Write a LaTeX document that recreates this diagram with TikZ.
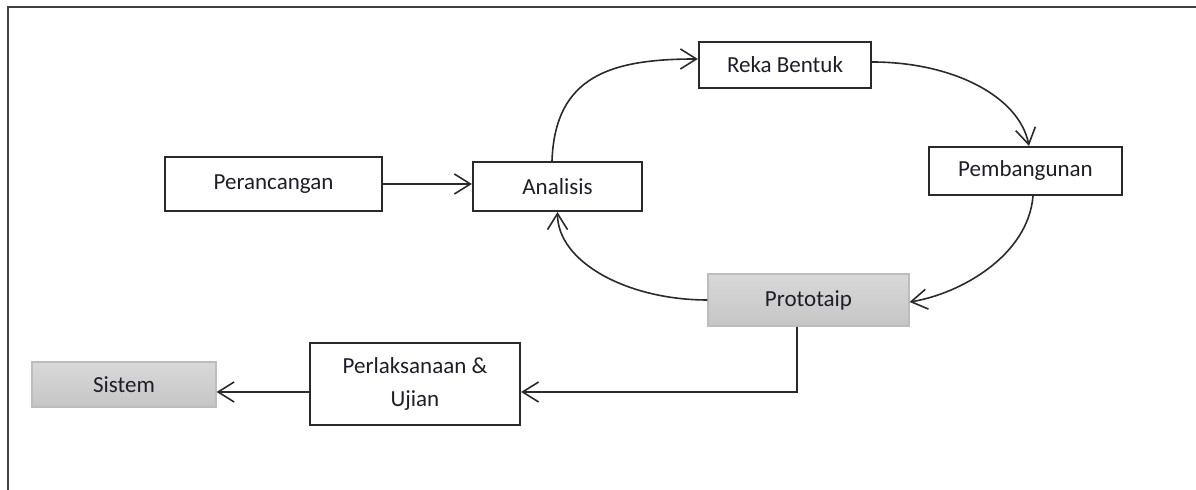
\documentclass[tikz,border=0pt]{standalone}
\usepackage{fontspec}
\setmainfont{Carlito}
\usetikzlibrary{arrows.meta}
\definecolor{ink}{HTML}{1E1E2A}
\definecolor{edge}{HTML}{2A2A2A}
\definecolor{greyedge}{HTML}{BDBDBD}
\tikzset{
  box/.style={draw=edge, line width=1.1pt, fill=white, text=ink,
    inner sep=0pt, align=center,
    font=\fontsize{11.5}{16.5}\selectfont},
  greybox/.style={draw=greyedge, line width=0.6pt, top color=gray!30,
    bottom color=gray!45, text=ink, inner sep=0pt, align=center,
    font=\fontsize{11.5}{16.5}\selectfont},
  link/.style={draw=edge, line width=0.8pt,
    -{Straight Barb[length=8pt,width=10pt,line width=0.8pt]}},
  plain/.style={draw=edge, line width=0.8pt},
}
\begin{document}
\begin{tikzpicture}[x=0.5pt,y=0.5pt]
  \useasboundingbox (0,0) rectangle (1196,490);
  % outer frame (left and top edges)
  \draw[draw=edge!90, line width=1pt] (8,0) -- (8,483) -- (1196,483);

  % process boxes
  \node[box, minimum width=108.5pt, minimum height=27pt] (per)   at (273.5,306) {Perancangan};
  \node[box, minimum width=84.5pt,  minimum height=24.5pt] (ana) at (557.5,303.5) {Analisis};
  \node[box, minimum width=86pt,    minimum height=23pt] (reka)  at (785,425) {Reka Bentuk};
  \node[box, minimum width=96.5pt,  minimum height=24pt] (pemb)  at (1025.5,319) {Pembangunan};
  \node[greybox, minimum width=100.5pt, minimum height=26pt] (proto) at (808.5,190) {Prototaip};
  \node[box, minimum width=105pt,   minimum height=41pt] (perl)  at (415,106) {Perlaksanaan \&\\Ujian};
  \node[greybox, minimum width=92pt, minimum height=22.5pt] (sis) at (124,105.5) {Sistem};

  % connectors
  \draw[link] (per.east) -- (per.east -| ana.west);
  \draw[link] ([xshift=-2.75pt]ana.north) .. controls +(3,85) and +(-87,0) .. ([yshift=3pt]reka.west);
  \draw[link] ([yshift=1.5pt]reka.east) .. controls +(80,0) and +(-10,50) .. ([xshift=1.75pt]pemb.north);
  \draw[link] ([xshift=3.75pt]pemb.south) .. controls +(-5,-60) and +(50,8) .. ([yshift=-1pt]proto.east);
  \draw[link] (proto.west) .. controls +(-80,0) and +(0,-50) .. (ana.south);
  \draw[link] ([xshift=-5.75pt]proto.south) |- ([yshift=-4pt]perl.east);
  \draw[link] ([yshift=-4pt]perl.west) -- ([yshift=-4pt]perl.west -| sis.east);
\end{tikzpicture}
\end{document}
